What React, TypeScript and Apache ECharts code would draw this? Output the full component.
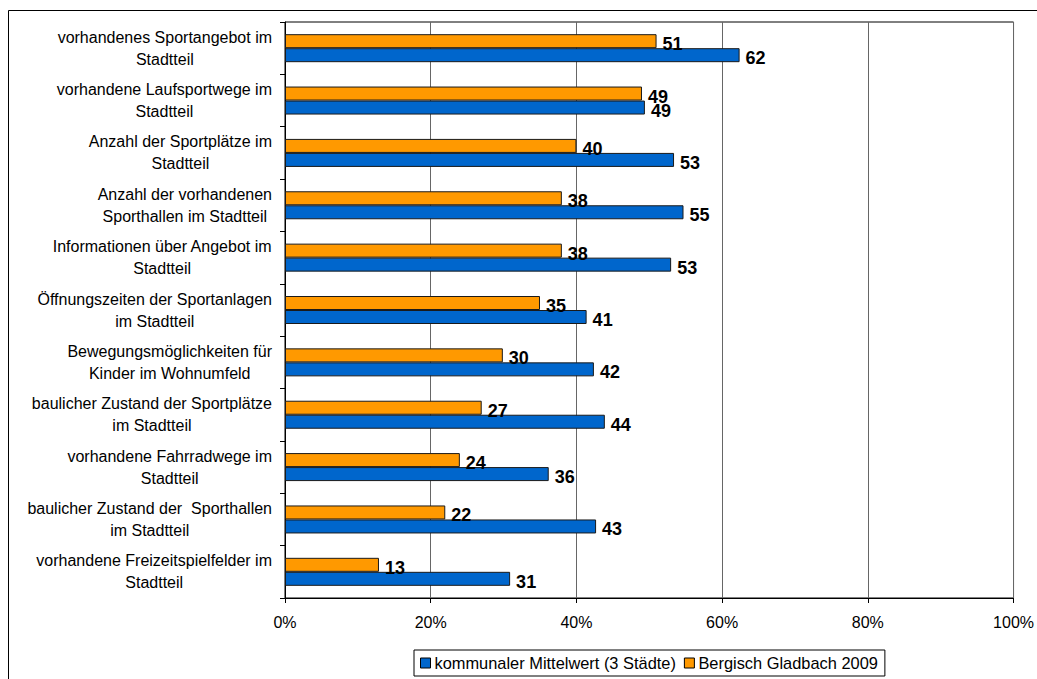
import React, { useEffect, useRef } from "react";
import * as echarts from "echarts";

const categories = [
  "vorhandenes Sportangebot im\nStadtteil",
  "vorhandene Laufsportwege im\nStadtteil",
  "Anzahl der Sportplätze im\nStadtteil",
  "Anzahl der vorhandenen\nSporthallen im Stadtteil",
  "Informationen über Angebot im\nStadtteil",
  "Öffnungszeiten der Sportanlagen\nim Stadtteil",
  "Bewegungsmöglichkeiten für\nKinder im Wohnumfeld",
  "baulicher Zustand der Sportplätze\nim Stadtteil",
  "vorhandene Fahrradwege im\nStadtteil",
  "baulicher Zustand der  Sporthallen\nim Stadtteil",
  "vorhandene Freizeitspielfelder im\nStadtteil",
];

const kommunal = [62.4, 49.4, 53.4, 54.7, 53.0, 41.4, 42.4, 43.9, 36.2, 42.7, 30.9];
const bergisch = [51.0, 49.0, 40.0, 38.0, 38.0, 35.0, 29.9, 27.0, 24.0, 22.0, 12.9];

const seriesNames = ["kommunaler Mittelwert (3 Städte)", "Bergisch Gladbach 2009"];
const xTicks = [0, 20, 40, 60, 80, 100];

const FONT = "'Liberation Sans', Arial, sans-serif";

export default function App() {
  const ref = useRef<HTMLDivElement>(null);
  useEffect(() => {
    if (!ref.current) return;
    const chart = echarts.init(ref.current, undefined, { renderer: "svg" });
    const cats = [...categories].reverse();
    const k = [...kommunal].reverse();
    const b = [...bergisch].reverse();
    const label = {
      show: true,
      position: "right" as const,
      distance: 6,
      offset: [0, 3],
      color: "#000",
      fontFamily: FONT,
      fontSize: 18,
      fontWeight: "bold" as const,
      formatter: (p: any) => String(Math.round(p.value)),
    };
    chart.setOption({
      animation: false,
      backgroundColor: "#fff",
      textStyle: { fontFamily: FONT },
      graphic: [
        {
          type: "rect",
          shape: { x: 8.5, y: 10.5, width: 1040, height: 680 },
          style: { fill: "none", stroke: "#000", lineWidth: 1 },
          silent: true,
          z: -1,
        },
      ],
      grid: {
        left: 285,
        top: 22,
        right: 21,
        bottom: 81,
        show: true,
        borderColor: "#000",
        borderWidth: 1,
      },
      legend: {
        left: 414,
        top: 650,
        orient: "horizontal",
        borderColor: "#000",
        borderWidth: 1,
        padding: [5, 7, 5, 6],
        itemWidth: 10,
        itemHeight: 10,
        itemGap: 8,
        icon: "rect",
        itemStyle: { borderColor: "#000", borderWidth: 1 },
        textStyle: { fontFamily: FONT, fontSize: 16.4, color: "#000", padding: [0, 0, 0, -1] },
        data: seriesNames,
      },
      xAxis: {
        type: "value",
        min: xTicks[0],
        max: xTicks[xTicks.length - 1],
        interval: 20,
        axisLine: { show: true, lineStyle: { color: "#000", width: 1 } },
        axisTick: { show: true, length: 5, lineStyle: { color: "#000" } },
        axisLabel: {
          margin: 16,
          color: "#000",
          fontFamily: FONT,
          fontSize: 16,
          formatter: (v: number) => `${v}%`,
        },
        splitLine: { show: true, lineStyle: { color: "#666", width: 1 } },
      },
      yAxis: {
        type: "category",
        data: cats,
        axisLine: { show: true, lineStyle: { color: "#000", width: 1 } },
        axisTick: { show: true, length: 5, inside: false, lineStyle: { color: "#000" } },
        axisLabel: {
          margin: 13,
          align: "right",
          formatter: (v: string) =>
            v
              .split("\n")
              .map((line) => `{c|${line}}`)
              .join("\n"),
          rich: {
            c: {
              align: "center",
              color: "#000",
              fontFamily: FONT,
              fontSize: 16,
              lineHeight: 22,
            },
          },
        },
        splitLine: { show: false },
      },
      series: [
        {
          name: seriesNames[1],
          type: "bar",
          data: b,
          barWidth: 14,
          barGap: "0%",
          itemStyle: { color: "#FF9900", borderColor: "#1a1a1a", borderWidth: 1 },
          label,
        },
        {
          name: seriesNames[0],
          type: "bar",
          data: k,
          barWidth: 14,
          barGap: "0%",
          itemStyle: { color: "#0066CC", borderColor: "#1a1a1a", borderWidth: 1 },
          label,
        },
      ],
    });
    return () => chart.dispose();
  }, []);
  return (
    <div
      ref={ref}
      style={{ position: "fixed", left: 0, top: 0, width: 1037, height: 679 }}
    />
  );
}
